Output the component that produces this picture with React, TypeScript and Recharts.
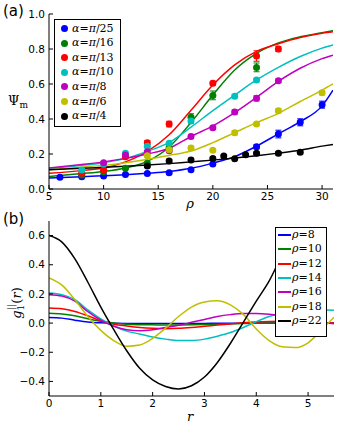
import React from 'react';
import { ComposedChart, LineChart, Line, Scatter, XAxis, YAxis, ErrorBar, Legend, Label } from 'recharts';

// ---------- Panel (a) data ----------
const alphaNames = ['π/25', 'π/16', 'π/13', 'π/10', 'π/8', 'π/6', 'π/4'];
const alphaColors = ['#0000ff', '#008000', '#ff0000', '#00bfbf', '#bf00bf', '#bfbf00', '#000000'];

const rhoA25 = [6, 8, 10, 12, 14, 16, 18, 20, 24, 26, 28, 30];
const psiA25 = [0.067, 0.07, 0.074, 0.083, 0.089, 0.093, 0.11, 0.143, 0.242, 0.314, 0.381, 0.482];
const errA25 = [0.003, 0.003, 0.003, 0.004, 0.004, 0.005, 0.005, 0.007, 0.012, 0.022, 0.02, 0.02];

const rhoA16 = [8, 10, 12, 14, 16, 18, 20, 24];
const psiA16 = [0.08, 0.099, 0.118, 0.147, 0.236, 0.41, 0.535, 0.695];
const errA16 = [0.003, 0.004, 0.005, 0.007, 0.01, 0.02, 0.025, 0.025];

const rhoA13 = [8, 10, 12, 14, 16, 20, 24, 26];
const psiA13 = [0.09, 0.109, 0.185, 0.265, 0.371, 0.604, 0.76, 0.8];
const errA13 = [0.003, 0.004, 0.008, 0.012, 0.016, 0.012, 0.03, 0.015];

const rhoA10 = [8, 10, 12, 14, 16, 18, 22, 24];
const psiA10 = [0.109, 0.143, 0.204, 0.245, 0.261, 0.389, 0.53, 0.623];
const errA10 = [0.004, 0.005, 0.007, 0.009, 0.009, 0.015, 0.01, 0.01];

const rhoA8 = [10, 12, 14, 16, 18, 20, 22, 24, 26];
const psiA8 = [0.15, 0.195, 0.213, 0.219, 0.3, 0.35, 0.44, 0.518, 0.619];
const errA8 = [0.005, 0.005, 0.007, 0.009, 0.012, 0.01, 0.012, 0.015, 0.01];

const rhoA6 = [14, 16, 18, 20, 22, 24, 26, 30];
const psiA6 = [0.19, 0.225, 0.234, 0.221, 0.322, 0.371, 0.447, 0.55];
const errA6 = [0.005, 0.007, 0.012, 0.005, 0.012, 0.007, 0.012, 0.012];

const rhoA4 = [14, 16, 18, 20, 21, 22, 23, 24, 26, 28];
const psiA4 = [0.131, 0.16, 0.166, 0.175, 0.189, 0.173, 0.196, 0.204, 0.204, 0.21];
const errA4 = [0.007, 0.01, 0.01, 0.007, 0.005, 0.005, 0.005, 0.007, 0.01, 0.01];

const fitRho = [5, 8, 10, 12, 14, 16, 18, 20, 22, 24, 26, 28, 30, 31];
const fitA25 = [0.063, 0.07, 0.076, 0.082, 0.09, 0.1, 0.118, 0.148, 0.185, 0.245, 0.315, 0.385, 0.475, 0.565];
const fitA16 = [0.072, 0.088, 0.1, 0.12, 0.158, 0.24, 0.38, 0.537, 0.68, 0.775, 0.835, 0.87, 0.893, 0.905];
const fitA13 = [0.09, 0.105, 0.12, 0.155, 0.215, 0.31, 0.45, 0.594, 0.709, 0.786, 0.83, 0.866, 0.89, 0.898];
const fitA10 = [0.116, 0.135, 0.15, 0.175, 0.215, 0.266, 0.353, 0.448, 0.537, 0.623, 0.695, 0.757, 0.805, 0.823];
const fitA8 = [0.12, 0.14, 0.155, 0.175, 0.2, 0.233, 0.3, 0.361, 0.437, 0.524, 0.615, 0.69, 0.745, 0.765];
const fitA6 = [0.11, 0.125, 0.135, 0.15, 0.17, 0.192, 0.217, 0.265, 0.322, 0.379, 0.432, 0.5, 0.565, 0.6];
const fitA4 = [0.11, 0.118, 0.124, 0.13, 0.137, 0.145, 0.155, 0.165, 0.177, 0.19, 0.205, 0.222, 0.245, 0.255];

const rhoTicks = [5, 10, 15, 20, 25, 30];
const psiTicks = [0, 0.2, 0.4, 0.6, 0.8, 1.0];

// ---------- Panel (b) data ----------
const rhoNames = ['8', '10', '12', '14', '16', '18', '22'];
const rGrid = [0, 0.25, 0.5, 0.75, 1, 1.25, 1.5, 1.75, 2, 2.25, 2.5, 2.75, 3, 3.25, 3.5, 3.75, 4, 4.25, 4.5, 4.75, 5, 5.25, 5.5];
const g8 = [0.038, 0.034, 0.02, 0.008, 0.002, -0.001, -0.002, -0.002, -0.002, -0.002, -0.002, -0.002, -0.002, -0.001, -0.001, -0.001, 0, 0, 0, 0, 0, 0, 0];
const g10 = [0.068, 0.063, 0.05, 0.03, 0.012, 0.0, -0.008, -0.011, -0.012, -0.013, -0.013, -0.012, -0.01, -0.008, -0.005, -0.003, 0, 0.001, 0.001, 0.001, 0, 0, 0];
const g12 = [0.103, 0.098, 0.08, 0.05, 0.016, -0.008, -0.02, -0.03, -0.036, -0.038, -0.036, -0.03, -0.022, -0.014, -0.006, 0.002, 0.008, 0.011, 0.012, 0.011, 0.008, 0.004, 0.0];
const g14 = [0.207, 0.195, 0.16, 0.09, 0.028, -0.02, -0.055, -0.075, -0.095, -0.11, -0.12, -0.12, -0.11, -0.09, -0.065, -0.03, 0.01, 0.045, 0.07, 0.085, 0.092, 0.092, 0.088];
const g16 = [0.195, 0.185, 0.15, 0.078, 0.02, -0.022, -0.045, -0.052, -0.045, -0.03, -0.015, 0.005, 0.025, 0.045, 0.058, 0.065, 0.065, 0.06, 0.05, 0.035, 0.02, 0.005, -0.005];
const g18 = [0.31, 0.26, 0.16, 0.045, -0.05, -0.12, -0.158, -0.15, -0.105, -0.035, 0.045, 0.11, 0.145, 0.153, 0.125, 0.06, -0.04, -0.12, -0.163, -0.168, -0.135, -0.05, 0.04];
const g22 = [0.6, 0.555, 0.44, 0.28, 0.11, -0.045, -0.19, -0.31, -0.39, -0.435, -0.452, -0.43, -0.37, -0.27, -0.14, 0.005, 0.15, 0.29, 0.46, 0.55, 0.6, null, null];

const rTicks = [0, 1, 2, 3, 4, 5];
const gTicks = [-0.4, -0.2, 0, 0.2, 0.4, 0.6];

// ---------- helpers ----------
const pts = (xs: number[], ys: number[], es: number[]) => xs.map((x, i) => ({ x, y: ys[i], e: es[i] }));
const curve = (xs: number[], ys: number[]) => xs.map((x, i) => ({ x, y: ys[i] }));

const pointSets = [
  pts(rhoA25, psiA25, errA25),
  pts(rhoA16, psiA16, errA16),
  pts(rhoA13, psiA13, errA13),
  pts(rhoA10, psiA10, errA10),
  pts(rhoA8, psiA8, errA8),
  pts(rhoA6, psiA6, errA6),
  pts(rhoA4, psiA4, errA4),
];
const fitSets = [fitA25, fitA16, fitA13, fitA10, fitA8, fitA6, fitA4].map((ys) => curve(fitRho, ys));

const gSeries: (number | null)[][] = [g8, g10, g12, g14, g16, g18, g22];
const gTable = rGrid.map((r, i) => {
  const row: Record<string, number | null> = { r };
  gSeries.forEach((s, k) => {
    row['s' + k] = s[i];
  });
  return row;
});

const SANS = 'DejaVu Sans, sans-serif';
const SERIF = 'DejaVu Serif, serif';
const tickStyle = { fill: '#000', fontSize: 10.5, fontFamily: SANS };
const fmt1 = (v: number) => (v < 0 ? '\u2212' : '') + Math.abs(v).toFixed(1);
const blank = () => '';

function AlphaLegend() {
  return (
    <div
      style={{
        position: 'relative',
        width: 67,
        height: 108,
        boxSizing: 'border-box',
        border: '1.5px solid #000',
        background: '#fff',
        fontFamily: SERIF,
        fontSize: 11,
      }}
    >
      {alphaNames.map((n, i) => (
        <div key={n} style={{ position: 'absolute', left: 0, top: 8.5 + i * 14.6 - 7, height: 14, width: 65, display: 'flex', alignItems: 'center' }}>
          <span style={{ display: 'inline-block', width: 7, height: 7, borderRadius: 3.5, background: alphaColors[i], marginLeft: 6 }} />
          <span style={{ marginLeft: 4, whiteSpace: 'nowrap', lineHeight: '14px' }}>
            <i>α</i>=<i>π</i>{n.slice(1)}
          </span>
        </div>
      ))}
    </div>
  );
}

function RhoLegend() {
  return (
    <div
      style={{
        position: 'relative',
        width: 52,
        height: 110,
        boxSizing: 'border-box',
        border: '1.5px solid #000',
        background: '#fff',
        fontFamily: SERIF,
        fontSize: 11,
      }}
    >
      {rhoNames.map((n, i) => (
        <div key={n} style={{ position: 'absolute', left: 0, top: 7 + i * 14.3 - 7, height: 14, width: 52, display: 'flex', alignItems: 'center' }}>
          <span style={{ display: 'inline-block', width: 13, height: 2, background: alphaColors[i], marginLeft: 2 }} />
          <span style={{ marginLeft: 1, whiteSpace: 'nowrap', lineHeight: '14px' }}>
            <i>ρ</i>={n}
          </span>
        </div>
      ))}
    </div>
  );
}

export default function App() {
  return (
    <div style={{ position: 'absolute', left: 0, top: 0, width: 338, height: 432, background: '#fff', overflow: 'hidden' }}>
      <div style={{ position: 'absolute', left: 3, top: 4, fontFamily: SANS, fontSize: 15, lineHeight: '15px' }}>(a)</div>
      <div style={{ position: 'absolute', left: 3, top: 212, fontFamily: SANS, fontSize: 15, lineHeight: '15px' }}>(b)</div>

      <div style={{ position: 'absolute', left: 0, top: 0 }}>
        <ComposedChart width={338} height={216} margin={{ top: 14, right: 5, bottom: 0, left: 0 }}>
          <XAxis
            type="number"
            dataKey="x"
            domain={[5, 31]}
            ticks={rhoTicks}
            allowDataOverflow
            height={27}
            tickSize={-4}
            tickMargin={8}
            stroke="#000"
            tick={tickStyle}
          >
            <Label
              content={(p: any) => (
                <text x={190} y={p.viewBox.y + 19} fontFamily={SERIF} fontStyle="italic" fontSize={13} fill="#000" textAnchor="middle">
                  ρ
                </text>
              )}
            />
          </XAxis>
          <XAxis xAxisId="t" orientation="top" type="number" domain={[5, 31]} ticks={rhoTicks} allowDataOverflow height={0} tickSize={-4} stroke="#000" tickFormatter={blank} />
          <YAxis type="number" domain={[0, 1]} ticks={psiTicks} allowDataOverflow width={49} tickSize={-4} tickMargin={8} stroke="#000" tick={tickStyle} tickFormatter={fmt1}>
            <Label
              content={(p: any) => (
                <text x={8} y={p.viewBox.y + 91} fontFamily={SERIF} fontSize={13} fill="#000">
                  Ψ<tspan fontSize={9} dy={3}>m</tspan>
                </text>
              )}
            />
          </YAxis>
          <YAxis yAxisId="r" orientation="right" type="number" domain={[0, 1]} ticks={psiTicks} allowDataOverflow width={0} tickSize={-4} stroke="#000" tickFormatter={blank} />
          {fitSets.map((d, i) => (
            <Line key={'f' + i} data={d} dataKey="y" type="monotone" stroke={alphaColors[i]} strokeWidth={1.5} dot={false} isAnimationActive={false} />
          ))}
          {pointSets.map((d, i) => (
            <Scatter
              key={'p' + i}
              data={d}
              dataKey="y"
              fill={alphaColors[i]}
              isAnimationActive={false}
              shape={(p: any) => <circle cx={p.cx} cy={p.cy} r={3.5} fill={alphaColors[i]} />}
            >
              <ErrorBar dataKey="e" direction="y" width={3} stroke={alphaColors[i]} strokeWidth={1} />
            </Scatter>
          ))}
          <Legend
            layout="vertical"
            align="center"
            verticalAlign="middle"
            wrapperStyle={{ left: 54, top: 19, width: 67, height: 108 }}
            content={() => <AlphaLegend />}
          />
        </ComposedChart>
      </div>

      <div style={{ position: 'absolute', left: 0, top: 216 }}>
        <LineChart width={338} height={216} data={gTable} margin={{ top: 5, right: 4, bottom: 0, left: 0 }}>
          <XAxis type="number" dataKey="r" domain={[0, 5.5]} ticks={rTicks} allowDataOverflow height={36} tickSize={-4} tickMargin={8} stroke="#000" tick={tickStyle}>
            <Label
              content={(p: any) => (
                <text x={190} y={p.viewBox.y + 25} fontFamily={SERIF} fontStyle="italic" fontSize={13} fill="#000" textAnchor="middle">
                  r
                </text>
              )}
            />
          </XAxis>
          <XAxis xAxisId="t" orientation="top" type="number" domain={[0, 5.5]} ticks={rTicks} allowDataOverflow height={0} tickSize={-4} stroke="#000" tickFormatter={blank} />
          <YAxis type="number" domain={[-0.5, 0.7]} ticks={gTicks} allowDataOverflow width={49} tickSize={-4} tickMargin={8} stroke="#000" tick={tickStyle} tickFormatter={fmt1}>
            <Label
              content={(p: any) => {
                const cx = 21;
                const cy = p.viewBox.y + 82;
                return (
                  <text x={cx} y={cy} transform={`rotate(-90, ${cx}, ${cy})`} fontFamily={SERIF} fontSize={13} fill="#000" textAnchor="middle">
                    <tspan fontStyle="italic">g</tspan>
                    <tspan fontSize={9} dy={3}>1</tspan>
                    <tspan fontSize={9} dx={-5} dy={-10}>||</tspan>
                    <tspan dy={7}>(</tspan>
                    <tspan fontStyle="italic">r</tspan>
                    <tspan>)</tspan>
                  </text>
                );
              }}
            />
          </YAxis>
          <YAxis yAxisId="r" orientation="right" type="number" domain={[-0.5, 0.7]} ticks={gTicks} allowDataOverflow width={0} tickSize={-4} stroke="#000" tickFormatter={blank} />
          {gSeries.map((_, k) => (
            <Line key={'g' + k} dataKey={'s' + k} type="monotone" stroke={alphaColors[k]} strokeWidth={1.5} dot={false} isAnimationActive={false} />
          ))}
          <Legend
            layout="vertical"
            align="center"
            verticalAlign="middle"
            wrapperStyle={{ left: 275, top: 11, width: 52, height: 110 }}
            content={() => <RhoLegend />}
          />
        </LineChart>
      </div>
    </div>
  );
}
